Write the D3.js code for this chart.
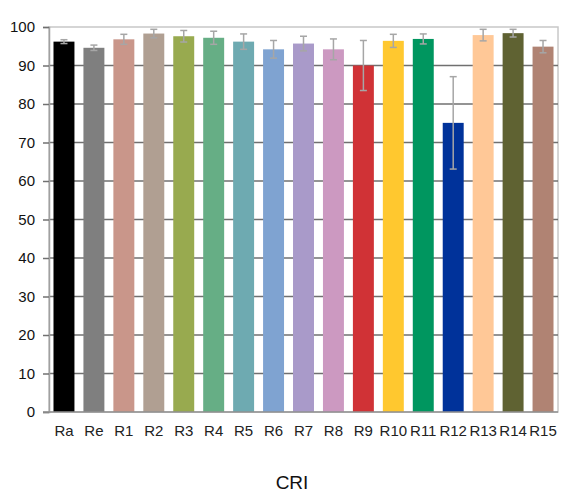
<!DOCTYPE html>
<html><head><meta charset="utf-8">
<script src="https://cdn.jsdelivr.net/npm/d3@7"></script>
<style>body{margin:0;background:#fff}svg{display:block}text{font-family:Arial,"Liberation Sans",sans-serif}</style>
</head><body><svg id="c" width="567" height="493"></svg>
<script>
const categories = ["Ra","Re","R1","R2","R3","R4","R5","R6","R7","R8","R9","R10","R11","R12","R13","R14","R15"];
const values = [96.2,94.6,96.8,98.3,97.6,97.2,96.2,94.2,95.7,94.2,90.0,96.4,96.9,75.1,97.9,98.4,94.9];
const errors = [0.5,0.7,1.3,1.1,1.5,1.7,2.0,2.3,1.9,2.7,6.5,1.7,1.3,12.0,1.5,1.0,1.6];
const colors = ["#000000","#7f7f7f","#c9968a","#b09f92","#98aa4f","#66ae85","#6eaab1","#7fa3d1","#a99ac9","#cc99c1","#d03236","#ffc82f","#00965f","#00329a","#ffc897","#5f6232","#b08373"];
const yTicks = [0,10,20,30,40,50,60,70,80,90,100];
const xTitle = "CRI";

const svg = d3.select("#c");
const L=49, R=558, T=27, B=412;
const x = d3.scaleBand().domain(categories).range([L,R]).paddingInner(0.3).paddingOuter(0.15);
const y = d3.scaleLinear().domain([0,100]).range([B,T]);

// plot border
svg.append("rect").attr("x",L).attr("y",T).attr("width",R-L).attr("height",B-T)
  .attr("fill","none").attr("stroke","#c8c8c8").attr("stroke-width",1.5);

// gridlines
svg.append("g").selectAll("line").data(yTicks.filter(d=>d>0&&d<100)).join("line")
  .attr("x1",L).attr("x2",R).attr("y1",d=>y(d)).attr("y2",d=>y(d))
  .attr("stroke","#707070").attr("stroke-width",1.6);

// y axis
const ya = svg.append("g").attr("transform",`translate(${L},0)`)
  .call(d3.axisLeft(y).tickValues(yTicks).tickSize(6).tickPadding(8));
ya.select(".domain").attr("stroke","#a0a0a0").attr("stroke-width",1.5);
ya.selectAll(".tick line").attr("stroke","#707070").attr("stroke-width",1.5);
ya.selectAll(".tick text").attr("font-size","15px").attr("fill","#111").attr("font-family","Arial,'Liberation Sans',sans-serif");

// bars
svg.append("g").selectAll("rect").data(categories).join("rect")
  .attr("x",d=>x(d)).attr("width",x.bandwidth())
  .attr("y",(d,i)=>y(values[i])).attr("height",(d,i)=>B-y(values[i]))
  .attr("fill",(d,i)=>colors[i]);

// x axis baseline
svg.append("line").attr("x1",L-6).attr("x2",R).attr("y1",B).attr("y2",B)
  .attr("stroke","#909090").attr("stroke-width",1.5);

// error bars
const eb = svg.append("g").attr("stroke","#a6a6a6").attr("stroke-width",1.5);
categories.forEach((c,i)=>{
  const cx = x(c)+x.bandwidth()/2;
  const y1 = y(values[i]+errors[i]), y2 = y(values[i]-errors[i]);
  eb.append("line").attr("x1",cx).attr("x2",cx).attr("y1",y1).attr("y2",y2);
  eb.append("line").attr("x1",cx-3.5).attr("x2",cx+3.5).attr("y1",y1).attr("y2",y1);
  eb.append("line").attr("x1",cx-3.5).attr("x2",cx+3.5).attr("y1",y2).attr("y2",y2);
});

// x labels
svg.append("g").selectAll("text").data(categories).join("text")
  .attr("x",d=>x(d)+x.bandwidth()/2).attr("y",436)
  .attr("text-anchor","middle").attr("font-size","15px").attr("fill","#222")
  .text(d=>d);

svg.append("text").attr("x",292).attr("y",489).attr("text-anchor","middle")
  .attr("font-size","19px").attr("fill","#111").text(xTitle);
</script></body></html>
